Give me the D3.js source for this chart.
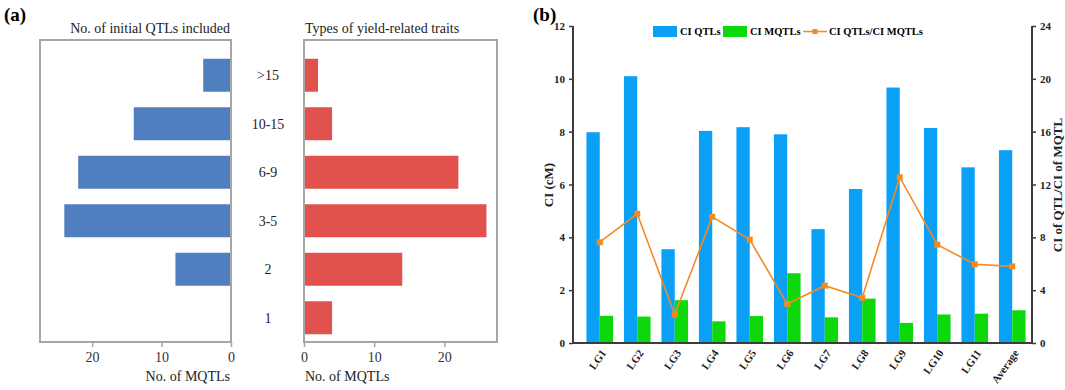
<!DOCTYPE html>
<meta charset="utf-8">
<script src="https://cdn.jsdelivr.net/npm/d3@7"></script>
<style>
  body { margin: 0; background: #fff; }
  text { font-family: "Liberation Serif", "Times New Roman", serif; }
</style>
<div id="chart"></div>
<script>

// ---- data, panel (a)
var classes = [">15", "10-15", "6-9", "3-5", "2", "1"]
var qtlsIncluded = [4, 14, 22, 24, 8, 0]   // No. of initial QTLs included
var traitTypes = [2, 4, 22, 26, 14, 4]     // Types of yield-related traits
var countTicks = [0, 10, 20]

// ---- data, panel (b)
var groups = ["LG1", "LG2", "LG3", "LG4", "LG5", "LG6", "LG7", "LG8", "LG9", "LG10", "LG11", "Average"]
var ciQtl  = [7.98, 10.1, 3.55, 8.03, 8.17, 7.9, 4.31, 5.83, 9.67, 8.14, 6.65, 7.3]
var ciMqtl = [1.03, 1.0, 1.62, 0.82, 1.02, 2.64, 0.97, 1.68, 0.76, 1.08, 1.11, 1.24]
var ratio  = [7.63, 9.78, 2.15, 9.55, 7.83, 2.95, 4.34, 3.43, 12.55, 7.45, 5.96, 5.8]
var leftTicks = [0, 2, 4, 6, 8, 10, 12]
var rightTicks = [0, 4, 8, 12, 16, 20, 24]

var svg = d3.select("#chart")
  .append("svg")
    .attr("width", 1065)
    .attr("height", 390)

// panel letters
svg.append("text").attr("x", 4).attr("y", 21)
  .style("font-size", "19px").style("font-weight", "bold").text("(a)")
svg.append("text").attr("x", 533).attr("y", 21)
  .style("font-size", "19px").style("font-weight", "bold").text("(b)")

// ---------------- panel (a) ----------------
var frameTop = 40, frameBottom = 342

var yA = d3.scaleBand()
  .domain(classes)
  .range([51, 342])
  .paddingInner(0.32)
  .paddingOuter(0.16)

var xLeft = d3.scaleLinear().domain([0, 27.5]).range([231, 40])
var xRight = d3.scaleLinear().domain([0, 27.5]).range([304, 497])

function drawHalf(x, values, color, title, titleAnchor) {
  var g = svg.append("g")
  var r = x.range()
  var x0 = Math.min(r[0], r[1]), x1 = Math.max(r[0], r[1])

  g.selectAll("rect.bar")
    .data(values)
    .enter()
    .append("rect")
      .attr("class", "bar")
      .attr("x", function(d) { return Math.min(x(0), x(d)) })
      .attr("y", function(d, i) { return yA(classes[i]) })
      .attr("width", function(d) { return Math.abs(x(d) - x(0)) })
      .attr("height", yA.bandwidth())
      .style("fill", color)

  // grey frame
  g.append("rect")
    .attr("x", x0).attr("y", frameTop)
    .attr("width", x1 - x0).attr("height", frameBottom - frameTop)
    .style("fill", "none").style("stroke", "#a6a6a6").style("stroke-width", 2)

  // bottom axis
  var ax = g.append("g")
    .attr("transform", "translate(0," + frameBottom + ")")
    .call(d3.axisBottom(x).tickValues(countTicks).tickSize(5).tickPadding(5))
  ax.select(".domain").remove()
  ax.selectAll("line").style("stroke", "#a6a6a6").style("stroke-width", 1.5)
  ax.selectAll("text").style("font-size", "14px").style("font-family", "Liberation Serif").style("fill", "#333")

  var tx = titleAnchor == "end" ? x1 - 1 : x0 + 1
  g.append("text").attr("x", tx).attr("y", 33)
    .attr("text-anchor", titleAnchor)
    .style("font-size", "14px").style("fill", "#222").text(title)
  g.append("text").attr("x", tx).attr("y", 381)
    .attr("text-anchor", titleAnchor)
    .style("font-size", "14px").style("fill", "#222").text("No. of MQTLs")
}

drawHalf(xLeft, qtlsIncluded, "#4f7fbe", "No. of initial QTLs included", "end")
drawHalf(xRight, traitTypes, "#e1524f", "Types of yield-related traits", "start")

// class labels in the middle
svg.selectAll("text.cls")
  .data(classes)
  .enter()
  .append("text")
    .attr("class", "cls")
    .attr("x", 268)
    .attr("y", function(d) { return yA(d) + yA.bandwidth() / 2 + 5 })
    .attr("text-anchor", "middle")
    .style("font-size", "14px").style("fill", "#222")
    .text(function(d) { return d })

// ---------------- panel (b) ----------------
var bLeft = 573, bRight = 1032, bTop = 26, bBottom = 343

var xB = d3.scaleBand()
  .domain(groups)
  .range([581, 1031])
  .paddingInner(0.29)
  .paddingOuter(0.145)

var yB = d3.scaleLinear().domain([0, 12]).range([bBottom, bTop])
var yR = d3.scaleLinear().domain([0, 24]).range([bBottom, bTop])

var bw = xB.bandwidth() / 2

svg.append("g").selectAll("rect")
  .data(ciQtl)
  .enter()
  .append("rect")
    .attr("x", function(d, i) { return xB(groups[i]) })
    .attr("y", function(d) { return yB(d) })
    .attr("width", bw)
    .attr("height", function(d) { return bBottom - yB(d) })
    .style("fill", "#0aa0f6")

svg.append("g").selectAll("rect")
  .data(ciMqtl)
  .enter()
  .append("rect")
    .attr("x", function(d, i) { return xB(groups[i]) + bw })
    .attr("y", function(d) { return yB(d) })
    .attr("width", bw)
    .attr("height", function(d) { return bBottom - yB(d) })
    .style("fill", "#0cd80c")

var line = d3.line()
  .x(function(d, i) { return xB(groups[i]) + xB.bandwidth() / 2 })
  .y(function(d) { return yR(d) })

svg.append("path")
  .datum(ratio)
  .attr("d", line)
  .style("fill", "none")
  .style("stroke", "#f58a22")
  .style("stroke-width", 1.6)

svg.append("g").selectAll("rect")
  .data(ratio)
  .enter()
  .append("rect")
    .attr("x", function(d, i) { return xB(groups[i]) + xB.bandwidth() / 2 - 3 })
    .attr("y", function(d) { return yR(d) - 3 })
    .attr("width", 6).attr("height", 6)
    .style("fill", "#f58a22")

// axes
var axisColor = "#3c3c3c"
var gl = svg.append("g")
  .attr("transform", "translate(" + bLeft + ",0)")
  .call(d3.axisLeft(yB).tickValues(leftTicks).tickSize(4).tickPadding(4))
var gr = svg.append("g")
  .attr("transform", "translate(" + bRight + ",0)")
  .call(d3.axisRight(yR).tickValues(rightTicks).tickSize(4).tickPadding(4))
;[gl, gr].forEach(function(g) {
  g.select(".domain").remove()
  g.selectAll("line").style("stroke", axisColor).style("stroke-width", 1.5)
  g.selectAll("text").style("font-size", "11px").style("font-weight", "bold")
    .style("font-family", "Liberation Serif").style("fill", "#222")
})
svg.append("line").attr("x1", bLeft).attr("x2", bLeft).attr("y1", bTop).attr("y2", bBottom)
  .style("stroke", axisColor).style("stroke-width", 2)
svg.append("line").attr("x1", bRight).attr("x2", bRight).attr("y1", bTop).attr("y2", bBottom)
  .style("stroke", axisColor).style("stroke-width", 2)
svg.append("line").attr("x1", bLeft).attr("x2", bRight).attr("y1", bBottom).attr("y2", bBottom)
  .style("stroke", axisColor).style("stroke-width", 2)

// x labels, rotated
svg.selectAll("text.grp")
  .data(groups)
  .enter()
  .append("text")
    .attr("class", "grp")
    .attr("text-anchor", "end")
    .attr("transform", function(d) {
      return "translate(" + (xB(d) + xB.bandwidth() / 2 + 7) + "," + (bBottom + 10) + ") rotate(-55)"
    })
    .style("font-size", "11px").style("font-weight", "bold").style("fill", "#222")
    .text(function(d) { return d })

// axis titles
svg.append("text")
  .attr("transform", "translate(553,185) rotate(-90)")
  .attr("text-anchor", "middle")
  .style("font-size", "13px").style("font-weight", "bold").style("fill", "#222")
  .text("CI (cM)")
svg.append("text")
  .attr("transform", "translate(1062,185) rotate(-90)")
  .attr("text-anchor", "middle")
  .style("font-size", "13px").style("font-weight", "bold").style("fill", "#222")
  .text("CI of QTL/CI of MQTL")

// legend
var lg = svg.append("g").style("font-size", "10.5px").style("font-weight", "bold")
lg.append("rect").attr("x", 653).attr("y", 26).attr("width", 24).attr("height", 11).style("fill", "#0aa0f6")
lg.append("text").attr("x", 680).attr("y", 35).text("CI QTLs")
lg.append("rect").attr("x", 723).attr("y", 26).attr("width", 24).attr("height", 11).style("fill", "#0cd80c")
lg.append("text").attr("x", 750).attr("y", 35).text("CI MQTLs")
lg.append("line").attr("x1", 803).attr("x2", 827).attr("y1", 31.5).attr("y2", 31.5)
  .style("stroke", "#f58a22").style("stroke-width", 1.6)
lg.append("rect").attr("x", 812.5).attr("y", 29).attr("width", 5).attr("height", 5).style("fill", "#f58a22")
lg.append("text").attr("x", 829).attr("y", 35).text("CI QTLs/CI MQTLs")

</script>
